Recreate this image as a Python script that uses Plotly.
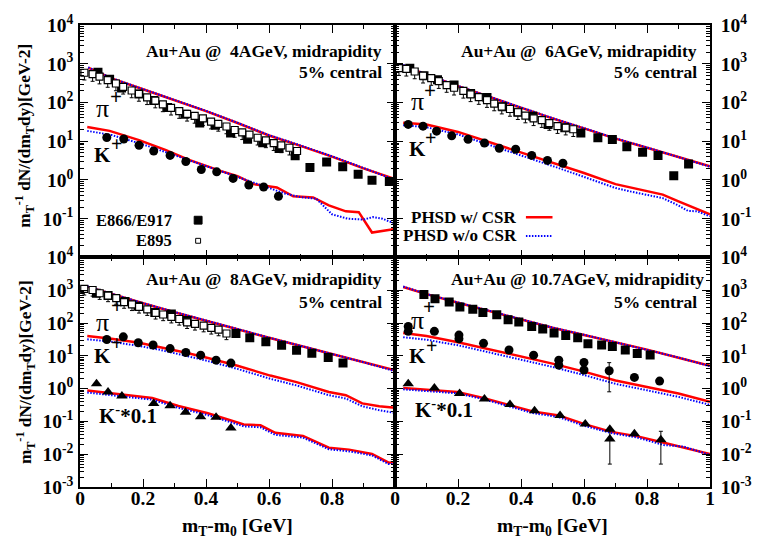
import plotly.graph_objects as go

# ---------------- data ----------------
# 4 AGeV (top-left)
x_pi4_e895 = [0.014,0.040,0.062,0.088,0.114,0.137,0.164,0.187,0.213,0.239,0.263,0.289,0.315,0.340,
              0.364,0.390,0.416,0.439,0.465,0.491,0.515,0.538,0.564,0.590,0.615,0.639,0.665,0.689]
y_pi4_e895 = [586,542,465,380,309,254,204,166,136,112,89,73,60,51,45,39,32,28,24,19.5,17,14.8,12.3,
              10.5,8.9,7.8,6.8,5.6]
x_pi4_e866 = [0.057,0.094,0.132,0.187,0.234,0.278,0.333,0.380,0.430,0.478,0.532,0.580,0.632,0.683,
              0.730,0.783,0.834,0.883,0.927,0.982]
y_pi4_e866 = [600,400,235,166,112,74,50,29.5,26,16.2,11.2,9.1,6.5,4.2,2.1,2.9,2.2,1.4,0.98,0.91]
x_k4 = [0.085,0.139,0.1875,0.234,0.286,0.336,0.385,0.434,0.486,0.536,0.583,0.630]
y_k4 = [12.5,11.4,7.9,5.6,4.3,3.0,1.86,1.62,1.10,0.74,0.66,0.38]
x_pi4_csr = [0.026,0.1,0.2,0.3,0.4,0.5,0.6,0.7,0.8,0.9,1.0]
y_pi4_csr = [794,417,219,117,60,29.5,14.1,7.6,4.0,2.0,1.05]
y_pi4_nocsr = [810,425,222,119,61,30,14.4,7.8,4.1,2.05,1.0]
x_k4_csr = [0.023,0.094,0.1875,0.271,0.344,0.396,0.448,0.5,0.552,0.625,0.677,0.74,0.79,0.844,0.885,0.927,1.0]
y_k4_csr = [23.3,18.5,10.7,6.0,3.34,2.36,1.69,1.26,0.78,0.64,0.38,0.355,0.22,0.155,0.148,0.044,0.054]
x_k4_nocsr = [0.023,0.1,0.2,0.3,0.4,0.5,0.6,0.65,0.7,0.75,0.8,0.85,0.9,0.93,0.96,1.0]
y_k4_nocsr = [18.5,14.5,8.3,4.4,2.3,1.2,0.62,0.45,0.36,0.33,0.13,0.10,0.095,0.11,0.10,0.075]

# 6 AGeV (top-right)
x_pi6_e866 = [0.047,0.092,0.135,0.1875,0.24,0.292,0.342,0.39,0.4375,0.486,0.539,0.59,0.644,0.69,
              0.736,0.786,0.835,0.885,0.932]
y_pi6_e866 = [769,490,389,282,170,135,78,56,44,27,22.4,16.4,12.3,11.1,7.2,5.2,4.3,1.29,2.57]
x_pi6_e895 = [0.0125,0.036,0.0625,0.089,0.115,0.139,0.164,0.1875,0.217,0.24,0.266,0.292,0.315,0.339,
              0.365,0.39,0.414,0.44,0.466,0.49,0.516,0.542,0.566]
y_pi6_e895 = [769,741,631,490,427,355,282,240,200,162,138,115,94,78,68,56,46,39,35,29.5,24.5,22.4,20.4]
x_k6 = [0.042,0.089,0.132,0.18,0.232,0.284,0.331,0.383,0.434,0.484,0.533]
y_k6 = [27.2,24.5,18.2,13.8,11.2,9.0,6.6,6.2,4.3,3.2,2.7]
x_pi6_csr = [0.026,0.1,0.2,0.3,0.4,0.5,0.6,0.7,0.8,0.9,1.0]
y_pi6_csr = [912,525,263,138,72,39,21.4,11.7,6.8,3.9,2.24]
y_pi6_nocsr = [930,535,268,140,73,39.5,21.8,11.9,6.9,3.95,2.2]
x_k6_csr = [0.026,0.1,0.2,0.28,0.4,0.5,0.6,0.7,0.75,0.8,0.85,0.9,0.95,1.0]
y_k6_csr = [30.2,26.9,17.4,10.7,5.2,2.75,1.51,0.78,0.63,0.52,0.42,0.28,0.19,0.13]
x_k6_nocsr = [0.026,0.1,0.2,0.28,0.4,0.5,0.6,0.7,0.75,0.8,0.85,0.9,0.93,0.96,1.0]
y_k6_nocsr = [26,23,15,9.2,4.4,2.3,1.2,0.62,0.5,0.42,0.34,0.22,0.16,0.155,0.115]

# 8 AGeV (bottom-left)
x_pi8_e895 = [0.0135,0.04,0.0625,0.089,0.115,0.14,0.165,0.1875,0.2135,0.24,0.264,0.29,0.315,0.34,
              0.365,0.3925,0.4167,0.44,0.465]
y_pi8_e895 = [1100,1020,810,690,575,435,370,310,263,204,182,155,133,105,94,83,71,63,48]
x_pi8_e866 = [0.052,0.089,0.143,0.184,0.2375,0.29,0.34,0.495,0.539,0.59,0.64,0.6875,0.736,0.788,0.835]
y_pi8_e866 = [810,690,457,324,211,190,120,48,35.5,27,21,14.8,12,8.9,6.0]
x_k8 = [0.085,0.1375,0.185,0.232,0.286,0.336,0.383,0.432,0.479]
y_k8 = [31.6,38,25.1,21.4,16.6,12.6,10.5,7.4,6.0]
x_km8 = [0.0525,0.089,0.133,0.234,0.286,0.335,0.383,0.432,0.479]
y_km8 = [1.41,0.79,0.60,0.355,0.30,0.19,0.14,0.135,0.063]
x_pi8_csr = [0.023,0.1,0.2,0.3,0.4,0.5,0.6,0.7,0.8,0.9,1.0]
y_pi8_csr = [1290,760,400,214,115,65,35.5,20,11.2,6.3,3.6]
y_pi8_nocsr = [1320,775,405,218,117,66,36,20.5,11.5,6.4,3.4]
x_k8_csr = [0.023,0.1,0.1875,0.25,0.333,0.4,0.5,0.604,0.6875,0.79,0.844,0.896,0.95,1.0]
y_k8_csr = [40,33,25,19,12.6,8.9,5.0,2.5,1.58,0.79,0.63,0.355,0.29,0.26]
y_k8_nocsr = [32,27,20,15.5,10.2,7.2,4.0,2.0,1.25,0.63,0.50,0.29,0.22,0.18]
x_km8_csr = [0.023,0.1,0.229,0.3125,0.406,0.52,0.573,0.62,0.708,0.79,0.854,0.927,0.98,1.0]
y_km8_csr = [0.87,0.71,0.52,0.295,0.178,0.081,0.076,0.045,0.036,0.0158,0.0138,0.0102,0.0055,0.0058]
y_km8_nocsr = [0.76,0.62,0.46,0.26,0.155,0.071,0.066,0.039,0.032,0.0142,0.0122,0.0092,0.0050,0.0050]

# 10.7 AGeV (bottom-right)
x_pi10_e866 = [0.0917,0.127,0.172,0.206,0.247,0.279,0.323,0.359,0.393,0.434,0.469,0.505,0.542,0.58,
               0.6125,0.656,0.69,0.731,0.769,0.81]
y_pi10_e866 = [741,550,437,309,263,211,178,126,107,79,66,50,41.7,35.5,23.4,21.4,19.1,15.1,11.7,10.7]
x_k10 = [0.042,0.042,0.125,0.203,0.203,0.281,0.362,0.44,0.52,0.52,0.6,0.6,0.68,0.76,0.84]
y_k10 = [79,56,56,43,33,24,15.1,10.5,7.4,5.2,6.3,3.7,3.5,2.2,1.7]
e_k10 = [0,0,0,0,0,0,0,0,0,0,0,0,2.7,0,0]
x_km10 = [0.042,0.125,0.205,0.284,0.365,0.443,0.524,0.604,0.682,0.682,0.76,0.844]
y_km10 = [1.41,1.05,0.71,0.48,0.33,0.21,0.151,0.083,0.058,0.029,0.042,0.0275]
e_km10 = [0,0,0,0,0,0,0,0,0,0.024,0,0.0225]
x_pi10_csr = [0.026,0.1,0.2,0.3,0.4,0.5,0.6,0.7,0.8,0.9,1.0]
y_pi10_csr = [1260,760,417,229,126,72,43,25.7,15.5,8.7,5.0]
y_pi10_nocsr = [1300,770,425,233,128,73,44,26,15.8,8.9,4.8]
x_k10_csr = [0.026,0.1,0.2,0.3,0.4,0.5,0.6,0.7,0.8,0.9,1.0]
y_k10_csr = [50,40,26,15.8,9.5,5.8,3.3,1.78,1.12,0.71,0.40]
y_k10_nocsr = [37,31,21,12.6,7.6,4.6,2.6,1.4,0.89,0.56,0.32]
x_km10_csr = [0.026,0.198,0.28,0.354,0.4375,0.52,0.604,0.6875,0.77,0.854,0.917,1.0]
y_km10_csr = [1.05,0.79,0.52,0.33,0.20,0.151,0.081,0.048,0.035,0.0224,0.0158,0.0102]
y_km10_nocsr = [0.95,0.72,0.48,0.30,0.18,0.135,0.072,0.044,0.032,0.019,0.017,0.0095]

# tick labels
x_ticks_left = [0, 0.2, 0.4, 0.6, 0.8]
x_ticks_right = [0, 0.2, 0.4, 0.6, 0.8, 1]
y_ticks_top = [0.1, 1, 10, 100, 1000, 10000]
y_ticks_top_text = ["10<sup>-1</sup>", "10<sup>0</sup>", "10<sup>1</sup>", "10<sup>2</sup>",
                    "10<sup>3</sup>", "10<sup>4</sup>"]
y_ticks_bot = [0.001, 0.01, 0.1, 1, 10, 100, 1000, 10000]
y_ticks_bot_text = ["10<sup>-3</sup>", "10<sup>-2</sup>"] + y_ticks_top_text

# ---------------- figure ----------------
W, H = 764, 542
L, R, T, B = 80, 44, 16, 55
PW, PH = W - L - R, H - T - B
SPLIT = (487 - 253) / PH

def px(v):
    return (v - L) / PW

def py(v):
    return (H - B - v) / PH

FONT = "Liberation Serif"
RED = "#ff0000"
BLUE = "#0000ff"

fig = go.Figure()

panels = {
    "4": ("x3", "y3"),
    "6": ("x4", "y4"),
    "8": ("x", "y"),
    "10.7": ("x2", "y2"),
}

def line(p, x, y, color, dash="solid", width=2.5):
    xa, ya = panels[p]
    fig.add_trace(go.Scatter(x=x, y=y, mode="lines", xaxis=xa, yaxis=ya, showlegend=False,
                             line=dict(color=color, width=width, dash=dash), hoverinfo="skip"))

def pts(p, x, y, symbol, size, open_=False, err=None, errminus_pct=None):
    xa, ya = panels[p]
    marker = dict(symbol=symbol, size=size, color="black")
    if open_:
        marker = dict(symbol=symbol, size=size, color="white", line=dict(color="black", width=1.2))
    kw = {}
    if err is not None:
        kw["error_y"] = dict(type="data", array=err, color="black", thickness=1, width=2)
    if errminus_pct is not None:
        kw["error_y"] = dict(type="percent", symmetric=False, value=0, valueminus=errminus_pct,
                             color="black", thickness=1, width=2)
    fig.add_trace(go.Scatter(x=x, y=y, mode="markers", xaxis=xa, yaxis=ya, showlegend=False,
                             marker=marker, **kw))

DOT = "1.5px,1.5px"
# model lines
for p, xs, ys in [("4", x_pi4_csr, y_pi4_csr), ("4", x_k4_csr, y_k4_csr),
                  ("6", x_pi6_csr, y_pi6_csr), ("6", x_k6_csr, y_k6_csr),
                  ("8", x_pi8_csr, y_pi8_csr), ("8", x_k8_csr, y_k8_csr), ("8", x_km8_csr, y_km8_csr),
                  ("10.7", x_pi10_csr, y_pi10_csr), ("10.7", x_k10_csr, y_k10_csr),
                  ("10.7", x_km10_csr, y_km10_csr)]:
    line(p, xs, ys, RED)
for p, xs, ys in [("4", x_pi4_csr, y_pi4_nocsr), ("4", x_k4_nocsr, y_k4_nocsr),
                  ("6", x_pi6_csr, y_pi6_nocsr), ("6", x_k6_nocsr, y_k6_nocsr),
                  ("8", x_pi8_csr, y_pi8_nocsr), ("8", x_k8_csr, y_k8_nocsr), ("8", x_km8_csr, y_km8_nocsr),
                  ("10.7", x_pi10_csr, y_pi10_nocsr), ("10.7", x_k10_csr, y_k10_nocsr),
                  ("10.7", x_km10_csr, y_km10_nocsr)]:
    line(p, xs, ys, BLUE, dash=DOT, width=2)

# data
pts("4", x_pi4_e866, y_pi4_e866, "square", 9)
pts("4", x_pi4_e895, y_pi4_e895, "square", 7, open_=True, errminus_pct=35)
pts("4", x_k4, y_k4, "circle", 9)
pts("6", x_pi6_e866, y_pi6_e866, "square", 9)
pts("6", x_pi6_e895, y_pi6_e895, "square", 7, open_=True, errminus_pct=35)
pts("6", x_k6, y_k6, "circle", 9)
pts("8", x_pi8_e866, y_pi8_e866, "square", 9)
pts("8", x_pi8_e895, y_pi8_e895, "square", 7, open_=True, errminus_pct=35)
pts("8", x_k8, y_k8, "circle", 9)
pts("8", x_km8, y_km8, "triangle-up", 10)
pts("10.7", x_pi10_e866, y_pi10_e866, "square", 9)
pts("10.7", x_k10, y_k10, "circle", 9, err=e_k10)
pts("10.7", x_km10, y_km10, "triangle-up", 10, err=e_km10)

# axes
tickfont = dict(family=FONT, size=19.5, color="black", weight="bold")
common = dict(showline=True, linecolor="black", linewidth=1.5, mirror="ticks", ticks="inside",
              tickcolor="black", tickwidth=1, showgrid=False, zeroline=False, tickfont=tickfont)

def xax(domain, anchor, vals, show):
    return dict(domain=domain, anchor=anchor, range=[0, 1], tickvals=vals,
                ticktext=[("0" if v == 0 else ("1" if v == 1 else f"{v:g}")) for v in vals],
                showticklabels=show, ticklen=8, ticklabelstandoff=-7,
                minor=dict(ticks="inside", ticklen=4, dtick=0.1, tickcolor="black", showgrid=False),
                **common)

def yax(domain, anchor, rng, vals, texts, side):
    return dict(domain=domain, anchor=anchor, type="log", range=rng, tickvals=vals, ticktext=texts,
                side=side, ticklen=8, ticklabelstandoff=(1 if side == "left" else 5),
                minor=dict(ticks="inside", ticklen=4, dtick="D1", tickcolor="black", showgrid=False),
                **common)

fig.update_layout(
    width=W, height=H, margin=dict(l=L, r=R, t=T, b=B),
    paper_bgcolor="white", plot_bgcolor="white", showlegend=False,
    xaxis=xax([0, 0.5], "y", x_ticks_left, True),
    yaxis=yax([0, SPLIT], "x", [-3, 4], y_ticks_bot, y_ticks_bot_text, "left"),
    xaxis2=xax([0.5, 1], "y2", x_ticks_right, True),
    yaxis2=yax([0, SPLIT], "x2", [-3, 4], y_ticks_bot, y_ticks_bot_text, "right"),
    xaxis3=xax([0, 0.5], "y3", x_ticks_left, False),
    yaxis3=yax([SPLIT, 1], "x3", [-2, 4], y_ticks_top, y_ticks_top_text, "left"),
    xaxis4=xax([0.5, 1], "y4", x_ticks_right, False),
    yaxis4=yax([SPLIT, 1], "x4", [-2, 4], y_ticks_top, y_ticks_top_text, "right"),
)

ann = []
def text(s, x, y, xanchor="left", yanchor="middle", size=17.5, weight="bold", angle=0):
    ann.append(dict(text=s, x=px(x), y=py(y), xref="paper", yref="paper", xanchor=xanchor,
                    yanchor=yanchor, showarrow=False, textangle=angle,
                    font=dict(family=FONT, size=size, color="black", weight=weight)))

# panel headings
text("Au+Au @\u00a0 4AGeV, midrapidity", 389, 42, "right")
text("5% central", 389, 64, "right")
text("Au+Au @\u00a0 6AGeV, midrapidity", 709, 42, "right")
text("5% central", 709, 64, "right")
text("Au+Au @\u00a0 8AGeV, midrapidity", 389, 275, "right")
text("5% central", 389, 298, "right")
text("Au+Au @ 10.7AGeV, midrapidity", 716, 275, "right")
text("5% central", 709, 298, "right")

# particle labels: (pi center, pi-sup center, K center, K-sup center, K- label left/center)
labels = [((103, 101), (117, 89), (103, 149), (117, 137), None),
          ((423, 94), (436, 83), (423, 142), (436, 131), None),
          ((103, 319), (118, 302), (103, 353), (117, 340), (97, 413)),
          ((423, 317), (435, 303), (423, 353), (437, 343), (418, 407))]
for pi_c, pis_c, k_c, ks_c, km in labels:
    text("π", pi_c[0], pi_c[1], "center", size=26, weight="normal")
    text("+", pis_c[0], pis_c[1], "center", size=21)
    text("K", k_c[0], k_c[1], "center", size=21)
    text("+", ks_c[0], ks_c[1], "center", size=20)
    if km is not None:
        text("K<sup>-</sup>*0.1", km[0], km[1], "left", size=21)

# axis titles
ytitle = "m<sub>T</sub><sup>-1</sup> dN/(dm<sub>T</sub>dy)[GeV-2]"
text(ytitle, 24, 129, "center", angle=-90, size=17.3)
text(ytitle, 24, 370, "center", angle=-90, size=17.3)
text("m<sub>T</sub>-m<sub>0</sub> [GeV]", 240, 528, "center", size=19.5)
text("m<sub>T</sub>-m<sub>0</sub> [GeV]", 560, 528, "center", size=19.5)

# legends
text("E866/E917", 175, 215, "right", size=16.5)
text("E895", 175, 236, "right", size=16.5)
text("PHSD w/ CSR", 526, 212, "right", size=17)
text("PHSD w/o CSR", 526, 231, "right", size=17)
fig.update_layout(annotations=ann)

shapes = [
    dict(type="rect", xref="paper", yref="paper", x0=px(196), x1=px(204), y0=py(219), y1=py(211),
         fillcolor="black", line=dict(color="black", width=1)),
    dict(type="rect", xref="paper", yref="paper", x0=px(197.5), x1=px(202.5), y0=py(238.5), y1=py(233.5),
         fillcolor="white", line=dict(color="black", width=1)),
    dict(type="line", xref="paper", yref="paper", x0=px(533), x1=px(560), y0=py(212), y1=py(212),
         line=dict(color=RED, width=2.5)),
    dict(type="line", xref="paper", yref="paper", x0=px(533), x1=px(560), y0=py(231), y1=py(231),
         line=dict(color=BLUE, width=2, dash=DOT)),
]
fig.update_layout(shapes=shapes)

fig.write_html("out.html")
